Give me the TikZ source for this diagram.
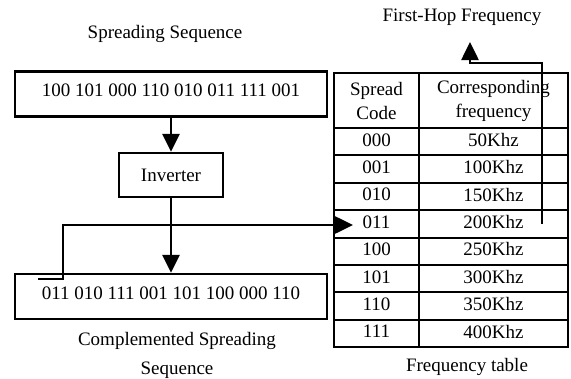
\documentclass[tikz,border=0pt]{standalone}
\usepackage{fontspec}
\setmainfont{Liberation Serif}
\usepackage{tikz}
\usetikzlibrary{arrows.meta,shapes}
\tikzstyle{seqbox}	=[rectangle,draw=black,line width=2.4pt,minimum width=312pt,minimum height=45pt,inner sep=0pt,text depth=7pt]
\tikzstyle{invbox}	=[rectangle,draw=black,line width=2.4pt,minimum width=104pt,minimum height=44pt,inner sep=0pt]
\tikzstyle{cellA}		=[rectangle,draw=black,line width=2pt,minimum width=85pt,inner sep=0pt]
\tikzstyle{cellB}		=[rectangle,draw=black,line width=2pt,minimum width=149pt,inner sep=0pt]
\tikzstyle{caption}	=[inner sep=0pt,align=center]
\tikzstyle{edgetr} 	= [draw,line width=2.6pt,-{Triangle[length=18pt,width=17pt]},black]

\begin{document}
\begin{tikzpicture}[x=1pt,y=-1pt,font=\fontsize{19}{29}\selectfont]
		\useasboundingbox (0,0) rectangle (571,378);

		%%%%% Sequence side
		\node[caption] (t1) at (165,34) {Spreading Sequence};
		\node[seqbox] (seq) at (171,94) {100 101 000 110 010 011 111 001};
		\node[invbox] (inv) at (171,175) {Inverter};
		\node[seqbox] (comp) at (171,296.5) {011 010 111 001 101 100 000 110};
		\node[caption] (t2) at (177,355) {Complemented Spreading\\Sequence};

		%%%%% Frequency table
		\node[caption] (t3) at (462,17) {First-Hop Frequency};
		\node[cellA,minimum height=55pt,align=center,font=\fontsize{19}{24}\selectfont] (hc) at (376.5,100.5) {Spread\\Code};
		\node[cellB,minimum height=55pt,align=center,font=\fontsize{19}{24}\selectfont] (hf) at (493.5,100.5) {Corresponding\\frequency};
		\foreach \code/\freq [count=\i] in {000/50Khz, 001/100Khz, 010/150Khz, 011/200Khz, 100/250Khz, 101/300Khz, 110/350Khz, 111/400Khz}
		{
		\node[cellA,minimum height=27.4pt,text depth=4pt] (c\i) at (376.5,{128+27.4*(\i-0.5)}) {\code};
		\node[cellB,minimum height=27.4pt,text depth=4pt] (f\i) at (493.5,{128+27.4*(\i-0.5)}) {\freq};
		}
		\node[caption] (t4) at (467,367) {Frequency table};

		%%%% Routes
		\coordinate (s0) at (38,279);
		\coordinate (k1) at (63,279);
		\coordinate (hit) at (353,225);
		\coordinate (up0) at (542,224);
		\coordinate (k2) at (542,63);
		\coordinate (tip) at (470,42);

		\foreach \source/ \dest in {seq/inv,inv/comp}	\path[edgetr] (\source) -- (\dest) ;
		\path[edgetr] (s0) -- (k1) |- (hit) ;
		\path[edgetr] (up0) -- (k2) -| (tip) ;
\end{tikzpicture}
\end{document}
